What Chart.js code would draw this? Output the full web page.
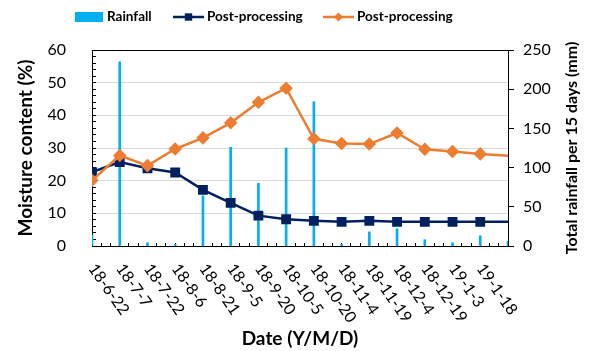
<!DOCTYPE html>
<html>
<head>
<meta charset="utf-8">
<script src="https://cdn.jsdelivr.net/npm/chart.js@4/dist/chart.umd.min.js"></script>
<style>
    body { margin: 0; background: #fff; }
</style>
</head>
<body>
<canvas id="myChart" width="590" height="351"></canvas>
<script>
// dias desde 18-6-22, una lectura cada 15 dias
const days = [0, 15, 30, 45, 60, 75, 90, 105, 120, 135, 150, 165, 180, 195, 210, 225];
const dateLabels = ['18-6-22', '18-7-7', '18-7-22', '18-8-6', '18-8-21', '18-9-5', '18-9-20', '18-10-5',
    '18-10-20', '18-11-4', '18-11-19', '18-12-4', '18-12-19', '19-1-3', '19-1-18'];

// lluvia total cada 15 dias (mm)
const rainfall = [14, 235, 4, 2, 64, 126, 80, 125, 184, 2, 18, 22, 8, 4, 13, 6];
// humedad (%)
const moistureNavy = [22.6, 25.7, 23.8, 22.5, 17.2, 13.2, 9.3, 8.2, 7.7, 7.4, 7.7, 7.4, 7.4, 7.4, 7.4, 7.4];
const moistureOrange = [20.1, 27.7, 24.6, 29.7, 33.1, 37.7, 44.0, 48.3, 32.8, 31.4, 31.2, 34.6, 29.6, 28.9, 28.2, 27.6];

const seriesNames = ['Rainfall', 'Post-processing', 'Post-processing'];
const colors = ['#00B0F0', '#002060', '#ED7D31'];

const font = 'Lato';
const lastIndex = days.length - 1;

const data = {
    datasets: [{
        type: 'bar',
        label: seriesNames[0],
        data: days.map((d, i) => ({ x: d, y: rainfall[i] })),
        yAxisID: 'y1',
        backgroundColor: colors[0],
        barThickness: 2,
        order: 2
    }, {
        type: 'line',
        label: seriesNames[1],
        data: days.map((d, i) => ({ x: d, y: moistureNavy[i] })),
        yAxisID: 'y',
        borderColor: colors[1],
        backgroundColor: colors[1],
        borderWidth: 2.5,
        pointStyle: 'rect',
        pointRadius: ctx => ctx.dataIndex === lastIndex ? 0 : 5.2,
        tension: 0,
        order: 1
    }, {
        type: 'line',
        label: seriesNames[2],
        data: days.map((d, i) => ({ x: d, y: moistureOrange[i] })),
        yAxisID: 'y',
        borderColor: colors[2],
        backgroundColor: colors[2],
        borderWidth: 2.5,
        pointStyle: 'rectRot',
        pointRadius: ctx => ctx.dataIndex === lastIndex ? 0 : 5,
        tension: 0,
        order: 0
    }]
};

// leyenda, etiquetas de fecha inclinadas y titulo del eje derecho
const extras = {
    id: 'extras',
    afterDraw(chart) {
        const ctx = chart.ctx;
        const xs = chart.scales.x;
        const area = chart.chartArea;
        ctx.save();
        ctx.fillStyle = '#000';

        // fechas
        ctx.font = '16px ' + font;
        ctx.textAlign = 'left';
        ctx.textBaseline = 'middle';
        dateLabels.forEach((t, i) => {
            ctx.save();
            ctx.translate(xs.getPixelForValue(days[i]), xs.top + 19.5);
            ctx.rotate(55 * Math.PI / 180);
            ctx.fillText(t, 0, 0);
            ctx.restore();
        });

        // titulo eje derecho
        ctx.font = 'bold 16px ' + font;
        ctx.textAlign = 'center';
        ctx.save();
        ctx.translate(572, (area.top + area.bottom) / 2);
        ctx.rotate(-Math.PI / 2);
        ctx.fillText('Total rainfall per 15 days (mm)', 0, 0);
        ctx.restore();

        // leyenda
        ctx.font = 'bold 13.5px ' + font;
        ctx.textAlign = 'left';
        const ly = 17;
        const itemX = [75, 173, 323];
        ctx.fillStyle = colors[0];
        ctx.fillRect(itemX[0], ly - 5, 28, 10);
        ctx.fillStyle = '#000';
        ctx.fillText(seriesNames[0], itemX[0] + 32, ly);
        [1, 2].forEach(k => {
            const x = itemX[k];
            ctx.strokeStyle = colors[k];
            ctx.fillStyle = colors[k];
            ctx.lineWidth = 2.5;
            ctx.beginPath();
            ctx.moveTo(x, ly);
            ctx.lineTo(x + 31, ly);
            ctx.stroke();
            const cx = x + 15.5;
            ctx.beginPath();
            if (k === 1) {
                ctx.rect(cx - 3.7, ly - 3.7, 7.4, 7.4);
            } else {
                ctx.moveTo(cx, ly - 4.5);
                ctx.lineTo(cx + 4.5, ly);
                ctx.lineTo(cx, ly + 4.5);
                ctx.lineTo(cx - 4.5, ly);
                ctx.closePath();
            }
            ctx.fill();
            ctx.fillStyle = '#000';
            ctx.fillText(seriesNames[k], x + 34, ly);
        });
        ctx.restore();
    }
};

const config = {
    data: data,
    options: {
        responsive: false,
        animation: false,
        layout: {
            padding: { top: 50 }
        },
        plugins: {
            legend: { display: false },
            tooltip: { enabled: false }
        },
        scales: {
            x: {
                type: 'linear',
                min: 0,
                max: 225,
                offset: false,
                afterFit: s => { s.height = 105; },
                ticks: { display: false, stepSize: 5, maxTicksLimit: 100, autoSkip: false },
                grid: { offset: false, drawOnChartArea: false, tickLength: -3, tickColor: '#000' },
                border: { color: '#000' },
                title: {
                    display: true,
                    text: 'Date (Y/M/D)',
                    color: '#000',
                    font: { family: font, size: 19, weight: 'bold' },
                    padding: { top: 0, bottom: 1 }
                }
            },
            y: {
                position: 'left',
                min: 0,
                max: 60,
                afterFit: s => { s.width = 92; },
                ticks: {
                    stepSize: 2,
                    maxTicksLimit: 100,
                    autoSkip: false,
                    padding: 30,
                    color: '#000',
                    font: { family: font, size: 16 },
                    callback: v => v % 10 === 0 ? v : ''
                },
                grid: {
                    color: c => (c.tick.value === 0 || c.tick.value === 60) ? '#000'
                        : c.tick.value % 10 === 0 ? '#d9d9d9' : 'rgba(0,0,0,0)',
                    tickColor: '#000',
                    tickLength: -4
                },
                border: { color: '#000' },
                title: {
                    display: true,
                    text: 'Moisture content (%)',
                    color: '#000',
                    font: { family: font, size: 19, weight: 'bold' },
                    padding: { top: 14, bottom: 0 }
                }
            },
            y1: {
                position: 'right',
                min: 0,
                max: 250,
                afterFit: s => { s.width = 82; },
                ticks: {
                    stepSize: 50,
                    padding: 9,
                    color: '#000',
                    font: { family: font, size: 16 }
                },
                grid: { drawOnChartArea: false, tickLength: 6, tickColor: '#000' },
                border: { color: '#000' }
            }
        }
    },
    plugins: [extras]
};

const myChart = new Chart(
    document.getElementById('myChart'),
    config
);
</script>
</body>
</html>
